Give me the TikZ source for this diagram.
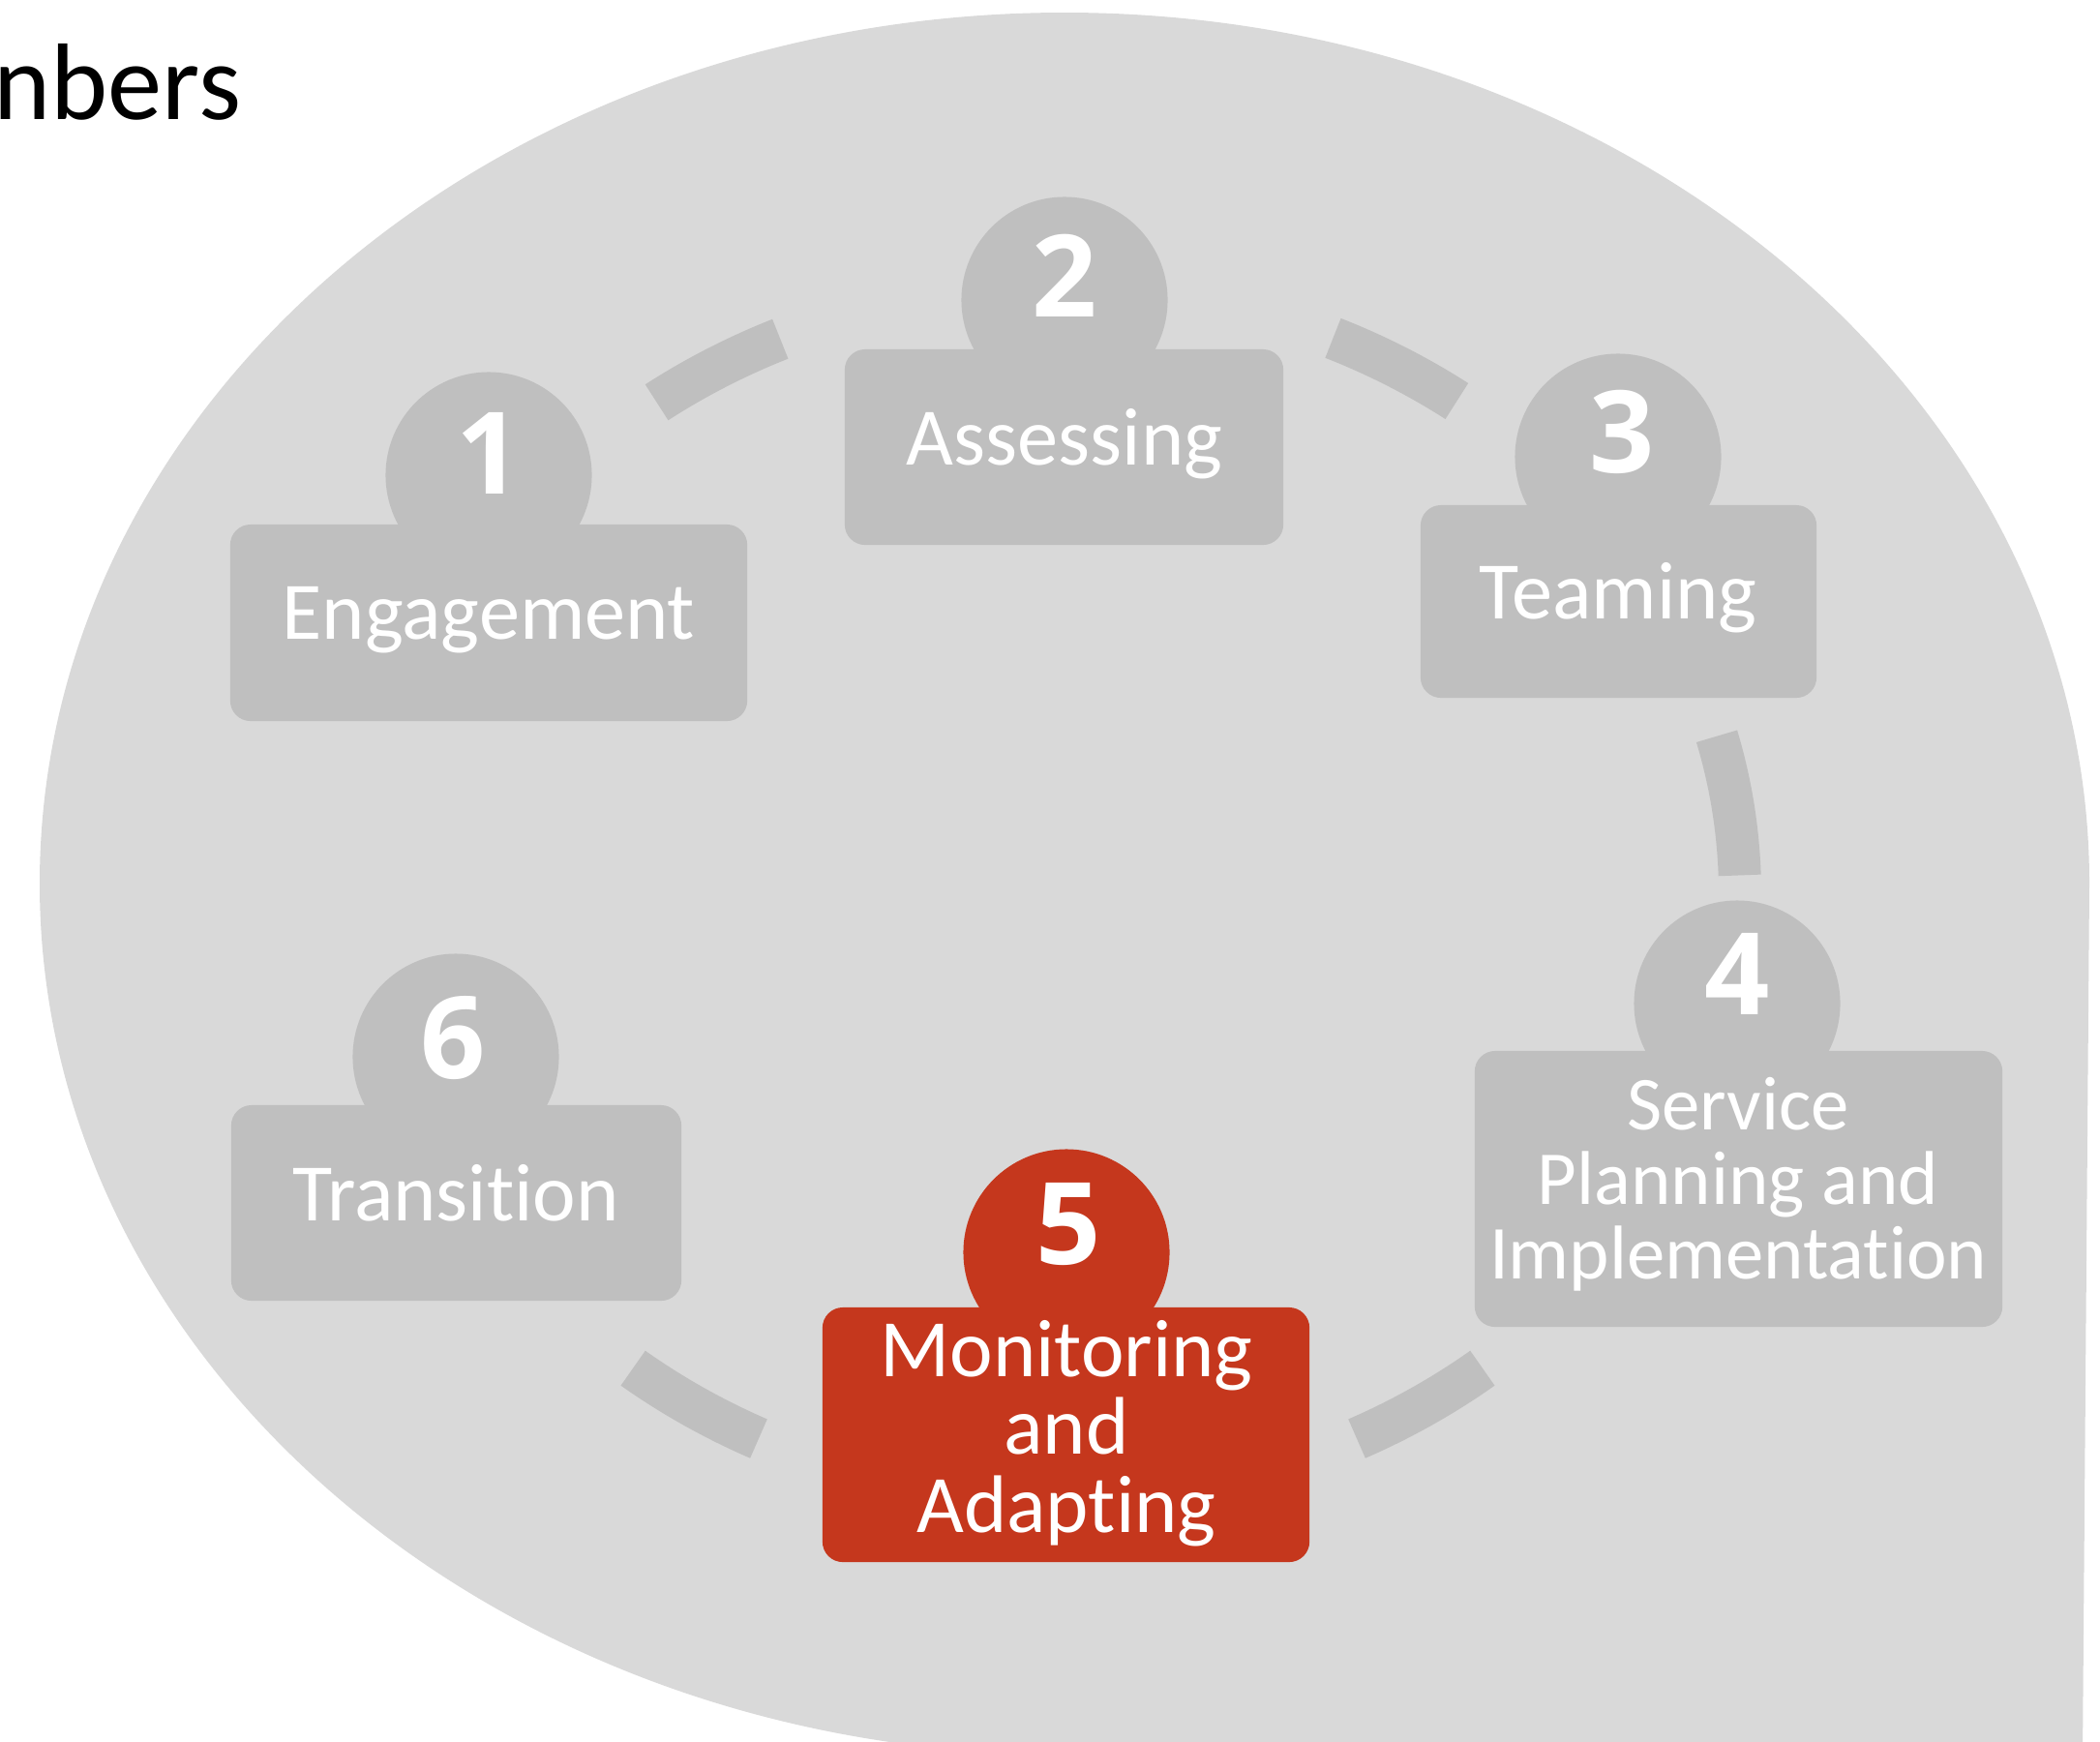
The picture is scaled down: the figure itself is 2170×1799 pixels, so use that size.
\documentclass[tikz,border=0pt]{standalone}
\usepackage{fontspec}
\setmainfont{Carlito}[Ligatures=NoCommon]
\newfontfamily\stagedigits{Open Sans}
\definecolor{bubblegray}{HTML}{D9D9D9}
\definecolor{stagegray}{HTML}{BFBFBF}
\definecolor{stagered}{HTML}{C5371D}

\begin{document}
\begin{tikzpicture}[x=0.01cm,y=-0.01cm,
  stagebox/.style={fill=stagegray,rounded corners=6pt,inner sep=0pt},
  stagedot/.style={circle,fill=stagegray,minimum size=2.13cm,inner sep=0pt},
  stagenum/.style={text=white,font=\stagedigits\fontsize{33.5}{34}\selectfont\bfseries,inner sep=0pt,anchor=base},
  stagelabel/.style={text=white,font=\fontsize{24}{23}\selectfont,inner sep=0pt,anchor=base},
  cyclearc/.style={draw=stagegray,line width=12.5pt},
  current/.style={fill=stagered}]

  % picture frame
  \clip (0,0) rectangle (2170,1799);

  % background bubble
  \fill[bubblegray] (2159,913) arc[start angle=0,end angle=-270,x radius=1059,y radius=900]
    -- (2152,1813) -- cycle;

  % title, cut off at the left edge
  \node[anchor=base west,inner sep=0pt,font=\fontsize{32}{32}\selectfont] (title) at (-7,123) {nbers};

  % dashes of the cycle
  \coordinate (cyc) at (1093,923);
  \draw[cyclearc] (cyc) ++(-126:705 and 627) arc[start angle=-126,end angle=-114,x radius=705,y radius=627];
  \draw[cyclearc] (cyc) ++(-66.2:705 and 627) arc[start angle=-66.2,end angle=-54.2,x radius=705,y radius=627];
  \draw[cyclearc] (cyc) ++(-15:705 and 627) arc[start angle=-15,end angle=-1.7,x radius=705,y radius=627];
  \draw[cyclearc] (cyc) ++(51.5:705 and 627) arc[start angle=51.5,end angle=64,x radius=705,y radius=627];
  \draw[cyclearc] (cyc) ++(116:705 and 627) arc[start angle=116,end angle=128.5,x radius=705,y radius=627];

  % stage 1
  \node[stagedot] (c1) at (505,491) {};
  \node[stagebox,minimum width=5.34cm,minimum height=2.03cm] (b1) at (505,643.5) {};
  \node[stagenum] (n1) at (505,510) {1};
  \node[stagelabel] (t1) at (505,660) {Engagement};

  % stage 2
  \node[stagedot] (c2) at (1100,310) {};
  \node[stagebox,minimum width=4.53cm,minimum height=2.02cm] (b2) at (1099.5,462) {};
  \node[stagenum] (n2) at (1100,327) {2};
  \node[stagelabel] (t2) at (1100,480) {Assessing};

  % stage 3
  \node[stagedot] (c3) at (1672,472) {};
  \node[stagebox,minimum width=4.09cm,minimum height=1.99cm] (b3) at (1672.5,621.5) {};
  \node[stagenum] (n3) at (1676,488) {3};
  \node[stagelabel] (t3) at (1672,639) {Teaming};

  % stage 4
  \node[stagedot] (c4) at (1795,1037) {};
  \node[stagebox,minimum width=5.45cm,minimum height=2.85cm] (b4) at (1796.5,1228.5) {};
  \node[stagenum] (n4) at (1795,1048) {4};
  \node[stagelabel,font=\fontsize{22.4}{22}\selectfont] (t4) at (1796,1167)
    {\parbox[t]{6cm}{\centering Service\\Planning and\\Implementation}};

  % stage 5, the current one
  \node[stagedot,current] (c5) at (1102,1294) {};
  \node[stagebox,current,minimum width=5.03cm,minimum height=2.63cm] (b5) at (1101.5,1482.5) {};
  \node[stagenum] (n5) at (1104,1306) {5};
  \node[stagelabel] (t5) at (1102,1422)
    {\parbox[t]{6cm}{\centering Monitoring\\and\\Adapting}};

  % stage 6
  \node[stagedot] (c6) at (471,1092) {};
  \node[stagebox,minimum width=4.65cm,minimum height=2.02cm] (b6) at (471.5,1243) {};
  \node[stagenum] (n6) at (468,1114) {6};
  \node[stagelabel] (t6) at (471,1261) {Transition};
\end{tikzpicture}
\end{document}
